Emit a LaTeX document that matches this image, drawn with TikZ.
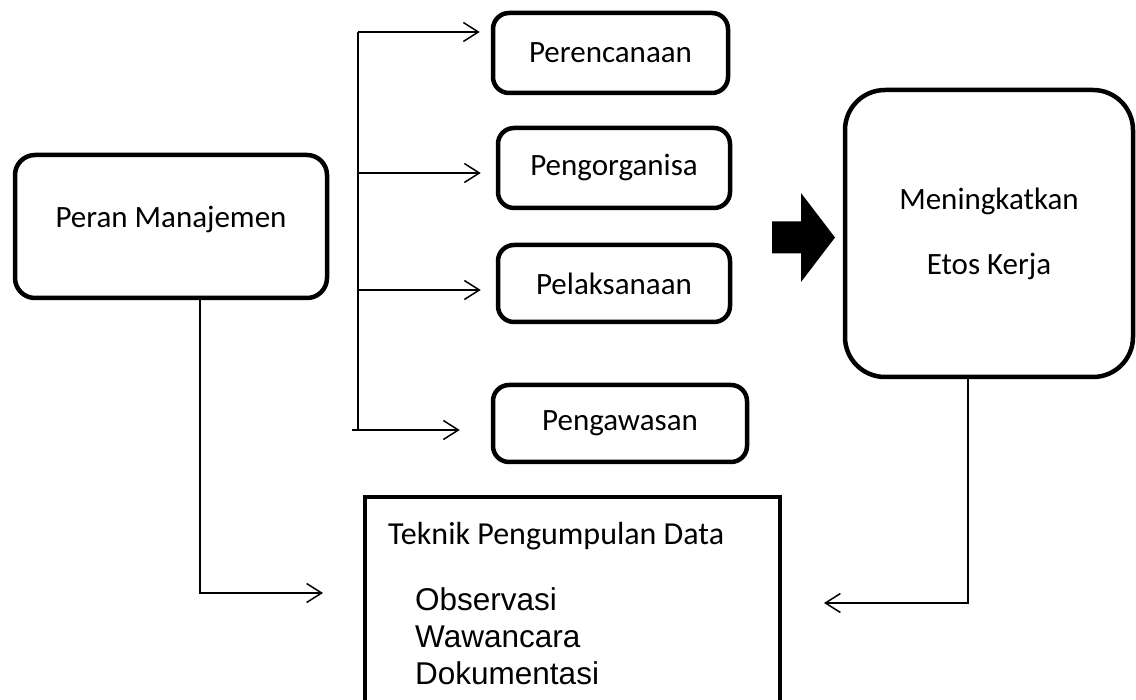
\documentclass[tikz,border=0pt]{standalone}
\usepackage{fontspec}
\setmainfont{Carlito}
\newfontfamily\arialfont{Liberation Sans}
\usetikzlibrary{arrows.meta}

\begin{document}
\begin{tikzpicture}[x=1pt,y=-1pt,
    kotak/.style={draw=black,line width=4.5pt,rounded corners=#1,align=center,inner sep=0pt},
    kotak/.default=16pt,
    garis/.style={line width=1.5pt},
    panah/.style={line width=1.5pt,-{Straight Barb[length=15pt,width=19pt,line width=1.5pt]}},
    font=\fontsize{31}{38}\selectfont]
    \useasboundingbox (0,0) rectangle (1136,700);

    % kotak utama
    \node[kotak=20pt,minimum width=312pt,minimum height=143pt,text depth=20pt] at (171,226.5) (peran) {Peran Manajemen};
    \node[kotak,minimum width=235pt,minimum height=80pt] at (610.5,53) (plan) {Perencanaan};
    \node[kotak,minimum width=232pt,minimum height=80pt] at (614,168) (org) {Pengorganisa};
    \node[kotak,minimum width=232pt,minimum height=77pt] at (614,283.5) (exec) {Pelaksanaan};
    \node[kotak,minimum width=254pt,minimum height=77pt] at (620,423.5) (ctrl) {Pengawasan};
    \node[kotak=40pt,minimum width=288pt,minimum height=287pt] at (989,233.5) (etos) {Meningkatkan\\[27pt]Etos Kerja};

    % kotak teknik
    \node[draw=black,line width=4pt,minimum width=415pt,minimum height=223pt,inner sep=0pt] at (572.5,608.5) (teknik) {};
    \node[anchor=west,inner sep=0pt,font=\fontsize{32}{38}\selectfont] at (388,536) (judul) {Teknik Pengumpulan Data};
    \node[anchor=west,align=left,inner sep=0pt,font=\arialfont\fontsize{31.5}{37}\selectfont] at (415,636) (metode) {Observasi\\Wawancara\\Dokumentasi};

    % cabang fungsi
    \coordinate (c1) at (358,32);
    \coordinate (c2) at (358,173);
    \coordinate (c3) at (358,290);
    \coordinate (c4) at (358,430);
    \coordinate (c4a) at (352,430);
    \draw[garis] (c1) -- (c4);
    \draw[panah,shorten >=11pt] (c1) -- (c1 -| plan.west);
    \draw[panah,shorten >=15pt] (c2) -- (c2 -| org.west);
    \draw[panah,shorten >=15pt] (c3) -- (c3 -| exec.west);
    \draw[panah,shorten >=31pt] (c4a) -- (c4a -| ctrl.west);

    % panah blok
    \fill[black] (772,221.5) -- (801,221.5) -- (801,193) -- (835,237.5) -- (801,282) -- (801,253.5) -- (772,253.5) -- cycle;

    % ke teknik
    \draw[panah,shorten >=40pt] ([xshift=29pt]peran.south) |- ([yshift=15.5pt]teknik.west);
    \draw[panah,shorten >=42pt] ([xshift=-21pt]etos.south) |- ([yshift=5.5pt]teknik.east);
\end{tikzpicture}
\end{document}
